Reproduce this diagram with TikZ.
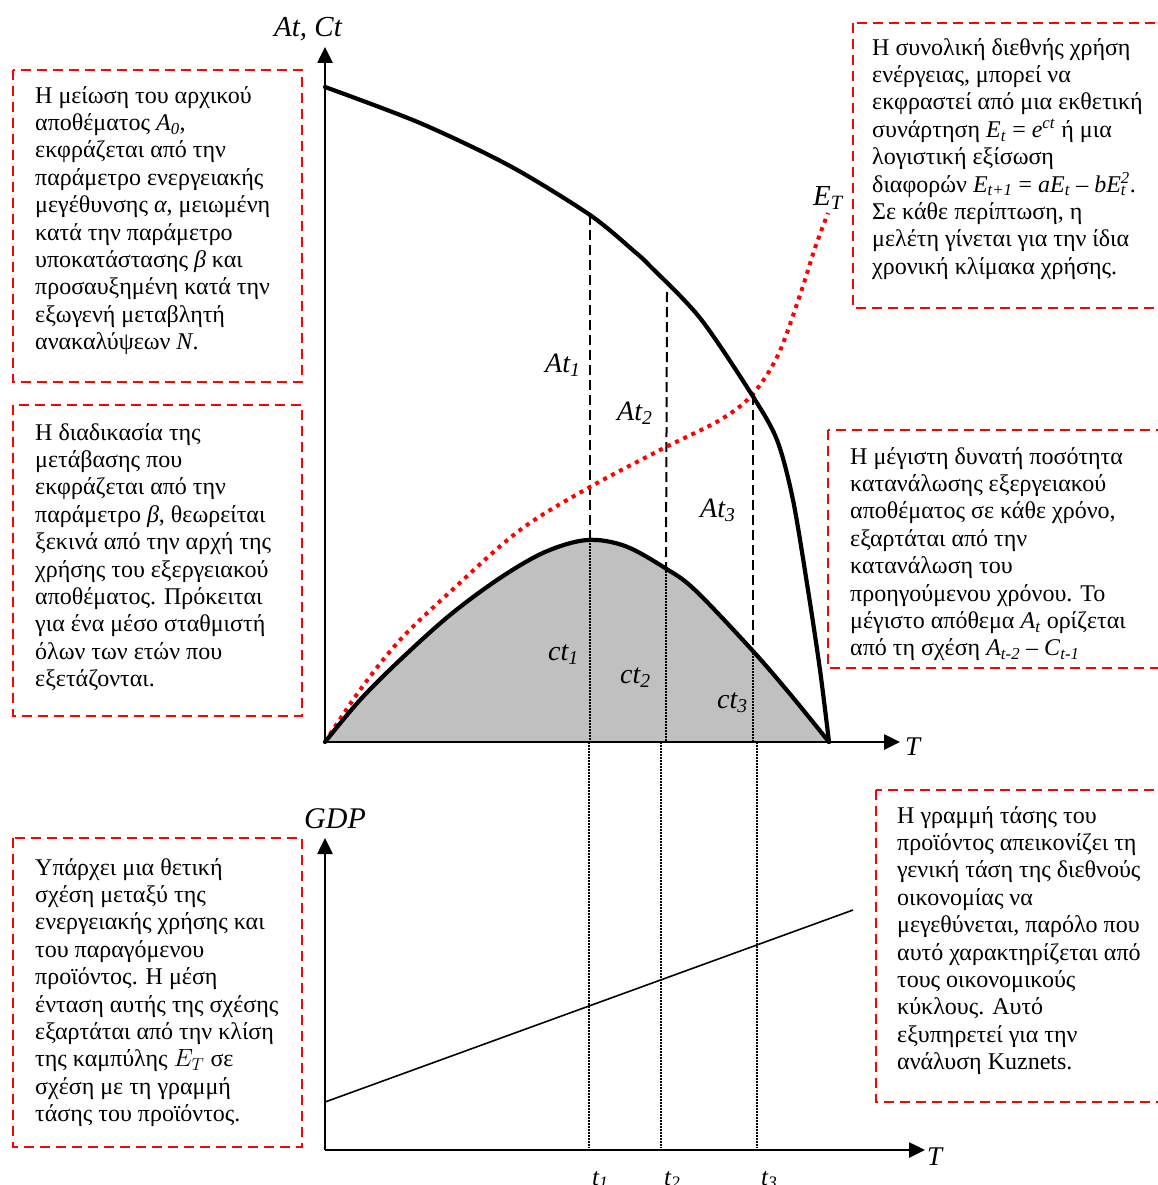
\documentclass[tikz,border=0pt]{standalone}
\usepackage{fontspec}
\setmainfont{Liberation Serif}
\usetikzlibrary{arrows.meta}
\definecolor{stockgray}{RGB}{192,192,192}

\begin{document}
\begin{tikzpicture}[x=1pt,y=-1pt,
  note/.style={draw=red, line width=2.4pt, dash pattern=on 10pt off 6pt},
  notetext/.style={anchor=north west, inner sep=0pt, align=left,
    font=\fontsize{24}{27.4}\selectfont},
  axis/.style={line width=2.6pt, -{Triangle[length=16pt,width=15pt]}},
  bold curve/.style={line width=4.2pt, line join=round, line cap=round},
  guide dashed/.style={line width=2pt, dash pattern=on 10pt off 5pt},
  guide dotted/.style={line width=1.5pt, dash pattern=on 1.5pt off 1.5pt},
  energy/.style={red, line width=4pt, dash pattern=on 4pt off 5pt},
  lab/.style={anchor=base west, inner sep=0pt, font=\fontsize{28}{30}\selectfont\itshape},
]
\useasboundingbox (0,0) rectangle (1158,1185);
\clip (0,0) rectangle (1158,1185);

% ---------- upper panel: stock and consumption ----------
\coordinate (O1) at (325,742);
\coordinate (Ytop) at (325,47);
\coordinate (Xend) at (900,742);

% consumption area
\fill[stockgray] plot[smooth, tension=0.55] coordinates {
  (325,742) (360,700) (400,660) (450,615) (500,578) (545,552) (587,540)
  (625,546) (665,568) (695,590) (752,650) (790,694) (829,742)} -- cycle;

% guide lines at t1, t2, t3
\coordinate (a1) at (590,215);  \coordinate (c1) at (590,540);  \coordinate (b1) at (590,742);
\coordinate (a2) at (667,292);  \coordinate (c2) at (666,568);  \coordinate (b2) at (666,742);
\coordinate (a3) at (753,395);  \coordinate (c3) at (753,650);  \coordinate (b3) at (753,742);
\draw[guide dashed] (a1) -- (c1);
\draw[guide dashed] (a2) -- (c2);
\draw[guide dashed] (a3) -- (c3);
\draw[guide dotted] (c1) -- (b1);
\draw[guide dotted] (c2) -- (b2);
\draw[guide dotted] (c3) -- (b3);

% energy use E_T
\draw[energy] plot[smooth, tension=0.55] coordinates {
  (325,742) (360,690) (400,640) (450,592) (520,530) (590,487) (666,447)
  (720,420) (752,395) (778,355) (800,295) (815,248) (828,213)};

% stock At
\draw[bold curve] plot[smooth, tension=0.5] coordinates {
  (325,87) (420,123) (510,166) (590,215) (635,252) (650,266) (700,318)
  (752,395) (777,440) (793,500) (808,590) (820,670) (829,742)};

% consumption Ct
\draw[bold curve] plot[smooth, tension=0.55] coordinates {
  (325,742) (360,700) (400,660) (450,615) (500,578) (545,552) (587,540)
  (625,546) (665,568) (695,590) (752,650) (790,694) (829,742)};

\draw[axis] (O1) -- (Ytop);
\draw[axis] (O1) -- (Xend);

\node[lab, font=\fontsize{29}{30}\selectfont\itshape] (lblA) at (274,37) {At, Ct};
\node[lab, font=\fontsize{29}{30}\selectfont\itshape] (lblE) at (813,205) {E\textsubscript{T}};
\node[lab, font=\fontsize{27}{30}\selectfont\itshape] (lblT1) at (905,755) {T};
\node[lab] (lA1) at (545,372) {At\textsubscript{1}};
\node[lab] (lA2) at (617,420) {At\textsubscript{2}};
\node[lab] (lA3) at (700,517) {At\textsubscript{3}};
\node[lab] (lc1) at (548,660) {ct\textsubscript{1}};
\node[lab] (lc2) at (620,683) {ct\textsubscript{2}};
\node[lab] (lc3) at (717,708) {ct\textsubscript{3}};

% ---------- lower panel: GDP ----------
\coordinate (O2) at (325,1150);
\coordinate (Gtop) at (325,838);
\coordinate (G2end) at (925,1150);
\coordinate (d1) at (589,742);  \coordinate (e1) at (589,1148);
\coordinate (d2) at (661,742);  \coordinate (e2) at (661,1148);
\coordinate (d3) at (757,742);  \coordinate (e3) at (757,1148);
\draw[guide dotted] (d1) -- (e1);
\draw[guide dotted] (d2) -- (e2);
\draw[guide dotted] (d3) -- (e3);

\coordinate (trendA) at (325,1102);
\coordinate (trendB) at (853,910);
\draw[line width=1.6pt] (trendA) -- (trendB);

\draw[axis] (O2) -- (Gtop);
\draw[axis] (O2) -- (G2end);

\node[lab, font=\fontsize{30}{32}\selectfont\itshape] (lGDP) at (304,828) {GDP};
\node[lab, font=\fontsize{27}{30}\selectfont\itshape] (lblT2) at (927,1165) {T};
\node[lab, font=\fontsize{25}{28}\selectfont\itshape] (lt1) at (592,1185) {t\textsubscript{1}};
\node[lab, font=\fontsize{25}{28}\selectfont\itshape] (lt2) at (664,1185) {t\textsubscript{2}};
\node[lab, font=\fontsize{25}{28}\selectfont\itshape] (lt3) at (761,1185) {t\textsubscript{3}};

% ---------- explanatory notes ----------
\draw[note] (13,70) rectangle (302,382);
\node[notetext] (n1) at (35,83.8) {\strut Η μείωση του αρχικού\\
αποθέματος \textit{A}\textsubscript{\textit{0}},\\
εκφράζεται από την\\
παράμετρο ενεργειακής\\
μεγέθυνσης \textit{α}, μειωμένη\\
κατά την παράμετρο\\
υποκατάστασης \textit{β} και\\
προσαυξημένη κατά την\\
εξωγενή μεταβλητή\\
ανακαλύψεων \textit{N}.};

\draw[note] (13,405) rectangle (302,716);
\node[notetext] (n2) at (35,420.8) {\strut Η διαδικασία της\\
μετάβασης που\\
εκφράζεται από την\\
παράμετρο \textit{β}, θεωρείται\\
ξεκινά από την αρχή της\\
χρήσης του εξεργειακού\\
αποθέματος. Πρόκειται\\
για ένα μέσο σταθμιστή\\
όλων των ετών που\\
εξετάζονται.};

\draw[note] (853,23) rectangle (1175,308);
\node[notetext] (n3) at (872,35.8) {\strut Η συνολική διεθνής χρήση\\
ενέργειας, μπορεί να\\
εκφραστεί από μια εκθετική\\
συνάρτηση \textit{E}\textsubscript{\textit{t}} = \textit{e}\textsuperscript{\textit{ct}} ή μια\\
λογιστική εξίσωση\\
διαφορών \textit{E}\textsubscript{\textit{t+1}} = \textit{aE}\textsubscript{\textit{t}} – \textit{bE}\rlap{\textsubscript{\textit{t}}}\textsuperscript{\textit{2}}.\\
Σε κάθε περίπτωση, η\\
μελέτη γίνεται για την ίδια\\
χρονική κλίμακα χρήσης.};

\draw[note] (828,430) rectangle (1175,668);
\node[notetext] (n4) at (850,444.8) {\strut Η μέγιστη δυνατή ποσότητα\\
κατανάλωσης εξεργειακού\\
αποθέματος σε κάθε χρόνο,\\
εξαρτάται από την\\
κατανάλωση του\\
προηγούμενου χρόνου. Το\\
μέγιστο απόθεμα \textit{A}\textsubscript{\textit{t}} ορίζεται\\
από τη σχέση \textit{A}\textsubscript{\textit{t-2}} – \textit{C}\textsubscript{\textit{t-1}}};

\draw[note] (13,838) rectangle (302,1147);
\node[notetext] (n5) at (35,855.8) {\strut Υπάρχει μια θετική\\
σχέση μεταξύ της\\
ενεργειακής χρήσης και\\
του παραγόμενου\\
προϊόντος. Η μέση\\
ένταση αυτής της σχέσης\\
εξαρτάται από την κλίση\\
της καμπύλης $E_T$ σε\\
σχέση με τη γραμμή\\
τάσης του προϊόντος.};

\draw[note] (876,790) rectangle (1175,1102);
\node[notetext] (n6) at (897,803.8) {\strut Η γραμμή τάσης του\\
προϊόντος απεικονίζει τη\\
γενική τάση της διεθνούς\\
οικονομίας να\\
μεγεθύνεται, παρόλο που\\
αυτό χαρακτηρίζεται από\\
τους οικονομικούς\\
κύκλους. Αυτό\\
εξυπηρετεί για την\\
ανάλυση Kuznets.};
\end{tikzpicture}
\end{document}
